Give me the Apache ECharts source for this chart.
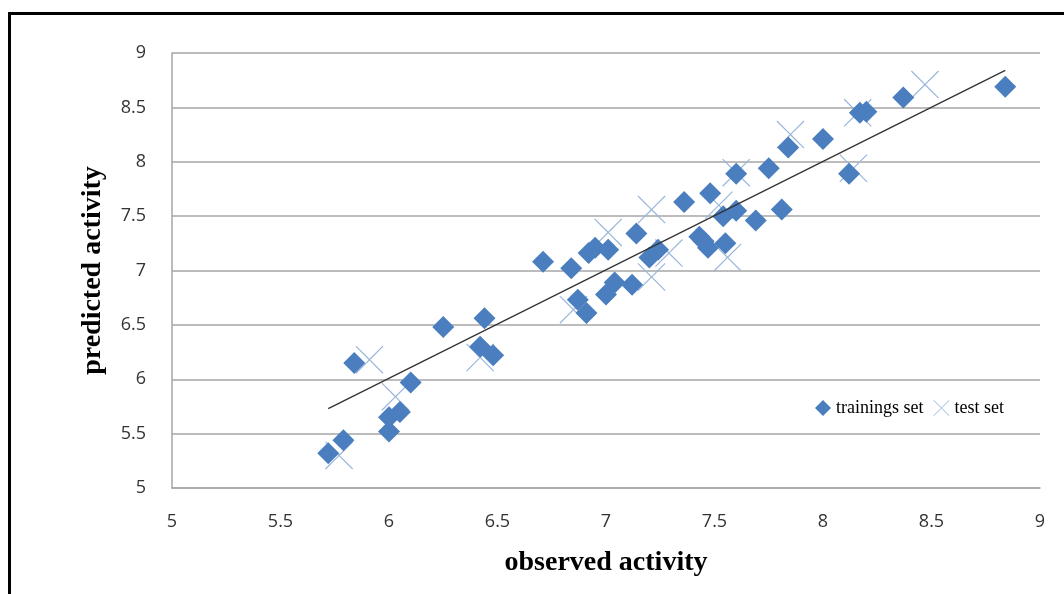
<!DOCTYPE html>
<html>
<head>
<meta charset="utf-8">
<script src="https://cdn.jsdelivr.net/npm/echarts@6/dist/echarts.min.js"></script>
<style>
html,body{margin:0;padding:0;background:#fff;}
#chart{width:1064px;height:594px;}
</style>
</head>
<body>
<div id="chart"></div>
<script>
// ---- data ----
var trainX = [5.72,5.79,5.84,6.00,6.00,6.05,6.10,6.25,6.42,6.44,6.48,6.71,6.84,6.87,6.91,6.92,6.95,7.00,7.01,7.04,7.12,7.14,7.20,7.24,7.36,7.43,7.47,7.55,7.45,7.48,7.54,7.60,7.60,7.69,7.75,7.81,7.84,8.00,8.12,8.17,8.20,8.37,8.84];
var trainY = [5.32,5.44,6.15,5.52,5.65,5.70,5.97,6.48,6.30,6.56,6.22,7.08,7.02,6.73,6.61,7.16,7.21,6.78,7.19,6.89,6.87,7.34,7.12,7.19,7.63,7.31,7.21,7.25,7.27,7.71,7.50,7.55,7.89,7.46,7.94,7.56,8.13,8.21,7.89,8.45,8.46,8.59,8.69];
var testX = [5.77,5.91,6.03,6.42,6.85,7.01,7.21,7.21,7.29,7.52,7.56,7.60,7.85,8.14,8.16,8.47];
var testY = [5.30,6.18,5.84,6.20,6.64,7.35,7.56,6.94,7.16,7.60,7.12,7.90,8.25,7.94,8.45,8.71];
var fitX = [5.72,8.84];
var fitY = [5.73,8.84];
var axisTicks = [5,5.5,6,6.5,7,7.5,8,8.5,9];

function pairs(xs, ys){ return xs.map(function(x,i){ return [x, ys[i]]; }); }

var xMark = 'path://M0,3 L3,0 L50,47 L97,0 L100,3 L53,50 L100,97 L97,100 L50,53 L3,100 L0,97 L47,50 Z';

var chart = echarts.init(document.getElementById('chart'), null, {renderer:'canvas'});
var tickFont = {fontFamily:'"Open Sans", "Liberation Sans", sans-serif', fontSize:18, color:'#333'};
chart.setOption({
  animation:false,
  backgroundColor:'#fff',
  graphic:[{type:'rect', shape:{x:9.5,y:13.5,width:1100,height:700}, style:{fill:'none', stroke:'#000', lineWidth:3}, silent:true}],
  grid:{left:172, right:24, top:53, bottom:106},
  legend:{
    left:810, top:394, itemGap:10, itemWidth:16, itemHeight:16,
    textStyle:{fontFamily:'"Liberation Serif", serif', fontSize:18, color:'#000'},
    data:[{name:'trainings set', icon:'diamond', itemStyle:{color:'#4a7ebf'}},
          {name:'test set', icon:xMark, itemStyle:{color:'#9ab5db'}}]
  },
  xAxis:{
    type:'value', min:5, max:9, interval:0.5,
    name:'observed activity', nameLocation:'middle', nameGap:61,
    nameTextStyle:{fontFamily:'"Liberation Serif", serif', fontWeight:'bold', fontSize:28, color:'#000'},
    axisLine:{show:true, lineStyle:{color:'#a6a6a6', width:1.5}},
    axisTick:{show:false},
    splitLine:{show:false},
    axisLabel:Object.assign({margin:25, formatter:function(v){return axisTicks.indexOf(v)>=0 ? String(v) : '';}}, tickFont)
  },
  yAxis:{
    type:'value', min:5, max:9, interval:0.5,
    name:'predicted activity', nameLocation:'middle', nameGap:65,
    nameTextStyle:{fontFamily:'"Liberation Serif", serif', fontWeight:'bold', fontSize:28, color:'#000'},
    axisLine:{show:true, lineStyle:{color:'#a6a6a6', width:1.5}},
    axisTick:{show:false},
    splitLine:{show:true, lineStyle:{color:'#a6a6a6', width:1.5}},
    axisLabel:Object.assign({margin:26, formatter:function(v){return axisTicks.indexOf(v)>=0 ? String(v) : '';}}, tickFont)
  },
  series:[
    {name:'test set', type:'scatter', z:2, symbol:xMark, symbolSize:28,
     itemStyle:{color:'#9ab5db', opacity:1}, data:pairs(testX,testY)},
    {name:'trainings set', type:'scatter', z:3, symbol:'diamond', symbolSize:[22,22],
     itemStyle:{color:'#4a7ebf', opacity:1}, data:pairs(trainX,trainY)},
    {name:'fit', type:'line', z:4, symbol:'none', lineStyle:{color:'#333', width:1.3},
     data:pairs(fitX,fitY), silent:true}
  ]
});
</script>
</body>
</html>
